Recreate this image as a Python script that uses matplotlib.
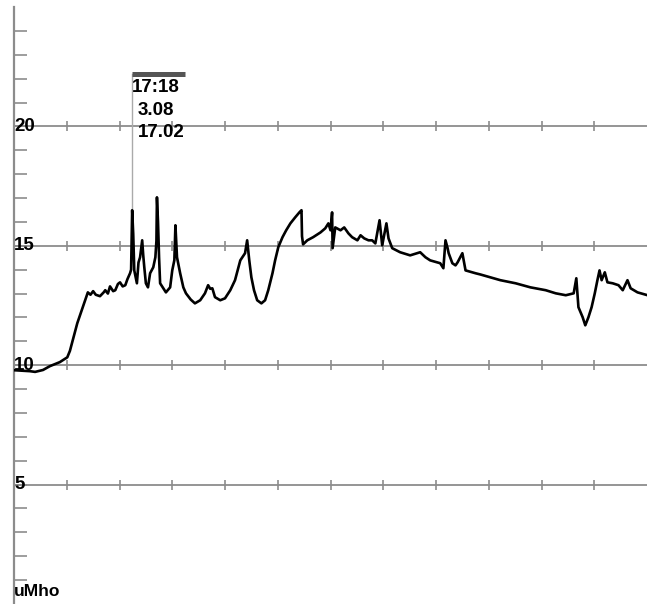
import numpy as np
import matplotlib
matplotlib.use('Agg')
import matplotlib.pyplot as plt

# conductance trace (time axis in grid divisions, value in uMho)
t = [0.00, 0.15, 0.30, 0.40, 0.55, 0.68, 0.87, 1.01, 1.06, 1.20, 1.35, 1.40,
     1.45, 1.50, 1.55, 1.63, 1.70, 1.73, 1.78, 1.82, 1.88, 1.92, 1.97, 2.01,
     2.06, 2.11, 2.15, 2.20, 2.22, 2.24, 2.26, 2.28, 2.33, 2.36, 2.39, 2.43,
     2.45, 2.47, 2.50, 2.54, 2.58, 2.64, 2.68, 2.70, 2.71, 2.73, 2.75, 2.77,
     2.83, 2.88, 2.96, 3.00, 3.04, 3.06, 3.09, 3.15, 3.21, 3.26, 3.35, 3.43,
     3.53, 3.62, 3.68, 3.72, 3.76, 3.81, 3.91, 4.00, 4.10, 4.19, 4.29, 4.38,
     4.42, 4.46, 4.50, 4.55, 4.61, 4.69, 4.76, 4.82, 4.90, 4.95, 5.01, 5.09,
     5.16, 5.24, 5.33, 5.41, 5.45, 5.46, 5.48, 5.56, 5.67, 5.81, 5.90, 5.96,
     6.00, 6.03, 6.04, 6.09, 6.19, 6.26, 6.34, 6.41, 6.51, 6.57, 6.64, 6.72,
     6.79, 6.85, 6.93, 6.98, 7.06, 7.10, 7.17, 7.32, 7.51, 7.70, 7.80, 7.89,
     8.08, 8.14, 8.18, 8.22, 8.24, 8.31, 8.37, 8.41, 8.50, 8.56, 8.75, 8.84,
     9.03, 9.22, 9.51, 9.79, 10.08, 10.27, 10.46, 10.61, 10.66, 10.70, 10.78, 10.83,
     10.89, 10.95, 11.01, 11.06, 11.10, 11.14, 11.20, 11.25, 11.35, 11.46, 11.54, 11.63,
     11.69, 11.82, 12.01]
g = [9.79, 9.77, 9.75, 9.72, 9.80, 9.96, 10.13, 10.33, 10.60, 11.76, 12.72, 13.05,
     12.95, 13.10, 12.95, 12.89, 13.05, 13.14, 13.00, 13.30, 13.10, 13.14, 13.40, 13.47,
     13.30, 13.35, 13.60, 13.85, 14.00, 16.49, 15.50, 13.97, 13.43, 14.30, 14.52, 15.23,
     14.60, 14.10, 13.43, 13.26, 13.85, 14.10, 14.52, 15.20, 17.03, 16.00, 14.52, 13.43,
     13.22, 13.05, 13.26, 13.97, 14.40, 15.86, 14.52, 13.85, 13.26, 13.01, 12.75, 12.59,
     12.72, 13.01, 13.35, 13.20, 13.22, 12.85, 12.72, 12.80, 13.14, 13.56, 14.39, 14.69,
     15.23, 14.39, 13.68, 13.14, 12.72, 12.59, 12.72, 13.14, 13.85, 14.39, 14.94, 15.36,
     15.65, 15.94, 16.19, 16.40, 16.49, 15.40, 15.06, 15.23, 15.36, 15.56, 15.73, 15.94,
     15.65, 16.40, 14.90, 15.77, 15.65, 15.77, 15.52, 15.36, 15.23, 15.44, 15.31, 15.23,
     15.23, 15.10, 16.07, 15.02, 15.94, 15.31, 14.90, 14.73, 14.60, 14.73, 14.52, 14.39,
     14.27, 14.06, 15.23, 14.90, 14.69, 14.27, 14.18, 14.31, 14.69, 13.97, 13.85, 13.80,
     13.68, 13.56, 13.43, 13.26, 13.14, 13.01, 12.93, 13.01, 13.64, 12.43, 12.01, 11.67,
     12.01, 12.43, 13.01, 13.56, 13.97, 13.56, 13.89, 13.47, 13.43, 13.35, 13.14, 13.56,
     13.22, 13.05, 12.93]

grid_vals = [5, 10, 15, 20]
grid_labels = ['5', '10', '15', '20']
cursor_t = 2.24
cursor_g = 16.49
cursor_text = ['17:18', '3.08', '17.02']

gray = '#8c8c8c'
font = dict(fontweight='bold', family='Liberation Sans')

fig = plt.figure(figsize=(6.47, 6.04), dpi=100)
ax = fig.add_axes([14 / 647, 0, 1 - 14 / 647, 1 - 7 / 604])
ax.set_xlim(0, 12)
ax.set_ylim(0, 25)

for s in ['top', 'right', 'bottom']:
    ax.spines[s].set_visible(False)
ax.spines['left'].set_color(gray)
ax.spines['left'].set_linewidth(1.6)

ax.set_yticks(range(1, 25))
ax.tick_params(axis='y', direction='in', length=9.5, width=1.2, color=gray,
               labelleft=False)
ax.set_xticks([])

for v in grid_vals:
    ax.axhline(v, color=gray, lw=1.3, zorder=1)
    ax.plot(range(1, 12), [v] * 11, ls='none', marker='|', ms=7, mew=1.2,
            color=gray, zorder=1)

for v, lab in zip(grid_vals, grid_labels):
    ax.text(0, v, lab, ha='left', va='center', fontsize=13.5, zorder=4, **font)

ax.plot(t, g, color='black', lw=1.9, zorder=3)

# cursor readout
ax.plot([cursor_t, cursor_t], [cursor_g, 22.2], color='#aaaaaa', lw=1, zorder=2)
ax.plot([cursor_t, cursor_t + 1.01], [22.2, 22.2], color='#555555', lw=3.6,
        solid_capstyle='butt', zorder=4)
ax.text(cursor_t, 21.63, cursor_text[0], ha='left', va='center', fontsize=13.5, **font)
ax.text(cursor_t + 0.11, 20.67, cursor_text[1], ha='left', va='center', fontsize=13.5, **font)
ax.text(cursor_t + 0.11, 19.75, cursor_text[2], ha='left', va='center', fontsize=13.5, **font)

ax.text(0, 0.2, 'uMho', ha='left', va='bottom', fontsize=12.5, **font)

fig.savefig('out.png', dpi=100)
